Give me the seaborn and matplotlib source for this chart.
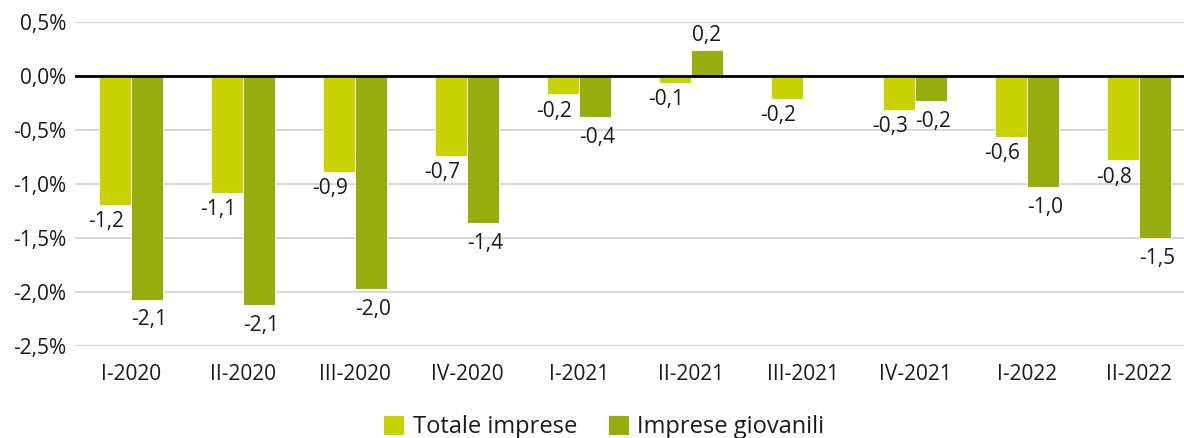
import numpy as np
import pandas as pd
import matplotlib
matplotlib.use('Agg')
import matplotlib.pyplot as plt
import seaborn as sns

# values (variazione %)
quarters = ['I-2020', 'II-2020', 'III-2020', 'IV-2020', 'I-2021',
            'II-2021', 'III-2021', 'IV-2021', 'I-2022', 'II-2022']
totale = [-1.19, -1.08, -0.89, -0.74, -0.17, -0.06, -0.21, -0.31, -0.56, -0.78]
giovanili = [-2.07, -2.12, -1.97, -1.36, -0.38, 0.24, np.nan, -0.23, -1.03, -1.50]
series_names = ['Totale imprese', 'Imprese giovanili']
palette = ['#c8d400', '#97ae0e']
y_ticks = [0.5, 0.0, -0.5, -1.0, -1.5, -2.0, -2.5]

df = pd.DataFrame({
    'Trimestre': quarters * 2,
    'Serie': [series_names[0]] * len(quarters) + [series_names[1]] * len(quarters),
    'Valore': totale + giovanili,
})

sns.set_style('white')
plt.rcParams['font.family'] = ['Open Sans', 'DejaVu Sans']
text_col = '#1a1a1a'

fig = plt.figure(figsize=(11.84, 4.38), dpi=100)
ax = fig.add_axes([0.0633, 0.21, 0.9367, 0.7397])

sns.barplot(data=df, x='Trimestre', y='Valore', hue='Serie', order=quarters,
            hue_order=series_names, palette=palette, saturation=1, width=0.57,
            gap=0, edgecolor='white', linewidth=0.6, ax=ax, legend=True)

ax.set_ylim(-2.5, 0.5)
ax.set_xlim(-0.5, 9.4)
ax.set_yticks(y_ticks)
ax.set_yticklabels([f"{t:.1f}".replace('.', ',') + '%' for t in y_ticks])
ax.grid(axis='y', color='#d9d9d9', linewidth=1.5)
ax.set_axisbelow(True)
ax.axhline(0, color='black', linewidth=2, zorder=3)
for s in ax.spines.values():
    s.set_visible(False)
ax.set_xlabel('')
ax.set_ylabel('')
ax.tick_params(axis='both', length=0, labelsize=15, colors=text_col)
ax.tick_params(axis='x', pad=13)
ax.tick_params(axis='y', pad=6)

# data labels, taken from the drawn bars (the missing bar is skipped)
# the lighter series' labels sit a bit to the left, as in the original
label_shift = [(-6.5, -4.5), (1.5, -7)]
for cont, (dx, dy) in zip(ax.containers, label_shift):
    for bar in cont.patches:
        v = bar.get_height()
        if np.isnan(v):
            continue
        x = bar.get_x() + bar.get_width() / 2
        if v >= 0:
            y = max(bar.get_y(), bar.get_y() + v)
            off, va = (0, 3), 'bottom'
        else:
            y = min(bar.get_y(), bar.get_y() + v)
            off, va = (dx, dy), 'top'
        ax.annotate(f"{v:.1f}".replace('.', ','), (x, y), xytext=off,
                    textcoords='offset points', ha='center', va=va,
                    fontsize=15, color=text_col)

handles, labs = ax.get_legend_handles_labels()
ax.legend_.remove()
fig.legend(handles, labs, loc='center', bbox_to_anchor=(0.51, 0.025), ncol=2,
           frameon=False, fontsize=17, handlelength=0.9, handleheight=0.9,
           handletextpad=0.35, columnspacing=1.3, labelcolor=text_col)

fig.savefig('out.png', dpi=100)
